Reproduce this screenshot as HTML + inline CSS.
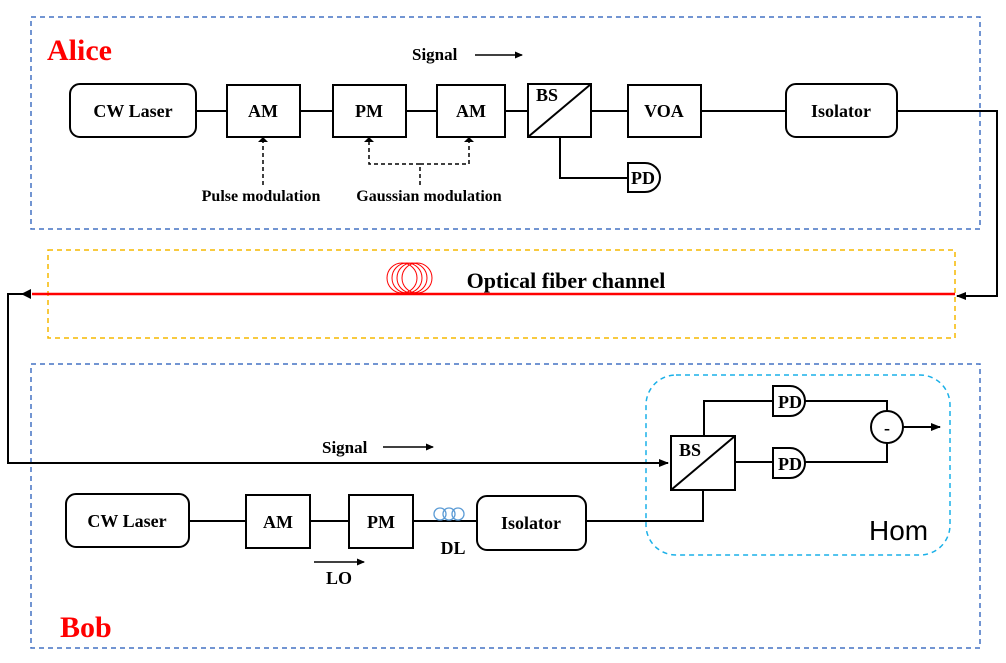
<!DOCTYPE html>
<html><head><meta charset="utf-8"><style>body{margin:0;background:#fff}svg{display:block}text{font-family:"Liberation Serif",serif;font-weight:bold}</style></head><body>
<svg width="1006" height="663" viewBox="0 0 1006 663" xmlns="http://www.w3.org/2000/svg">
<defs>
<marker id="a" markerWidth="10" markerHeight="8" refX="9" refY="4" orient="auto" markerUnits="userSpaceOnUse"><path d="M0,0 L10,4 L0,8 Z" fill="#000"/></marker>
<marker id="s" markerWidth="8" markerHeight="7" refX="7" refY="3.5" orient="auto" markerUnits="userSpaceOnUse"><path d="M0,0 L8,3.5 L0,7 Z" fill="#000"/></marker>
</defs>
<g fill="none" stroke-width="1.5" stroke-dasharray="5,4">
<rect x="31" y="17" width="949" height="212" stroke="#4472c4"/>
<rect x="48" y="250" width="907" height="88" stroke="#f5b800"/>
<rect x="31" y="364" width="949" height="284" stroke="#4472c4"/>
<rect x="646" y="375" width="304" height="180" rx="30" stroke="#1ab0e8"/>
</g>
<text x="47" y="60" font-size="30" fill="#f00">Alice</text>
<text x="60" y="637" font-size="30" fill="#f00">Bob</text>
<line x1="32" y1="294" x2="955" y2="294" stroke="#f00" stroke-width="2.5"/>
<g stroke="#000" stroke-width="2" fill="none">
<line x1="196" y1="111" x2="227" y2="111"/><line x1="300" y1="111" x2="333" y2="111"/><line x1="406" y1="111" x2="437" y2="111"/><line x1="505" y1="111" x2="528" y2="111"/><line x1="591" y1="111" x2="628" y2="111"/><line x1="701" y1="111" x2="786" y2="111"/>
<polyline points="897,111 997,111 997,296 957,296" marker-end="url(#a)"/>
<polyline points="560,137 560,178 628,178"/>
<polyline points="28,294 8,294 8,463 668,463" marker-end="url(#a)"/>
<line x1="189" y1="521" x2="246" y2="521"/><line x1="310" y1="521" x2="349" y2="521"/><line x1="413" y1="521" x2="477" y2="521"/>
<polyline points="586,521 703,521 703,490"/>
<polyline points="704,436 704,401 773,401"/>
<line x1="735" y1="462" x2="773" y2="462"/>
<polyline points="805,401 887,401 887,411"/><polyline points="805,462 887,462 887,443"/>
<line x1="903" y1="427" x2="940" y2="427" marker-end="url(#a)"/>
<line x1="475" y1="55" x2="522" y2="55" stroke-width="1.5" marker-end="url(#s)"/>
<line x1="383" y1="447" x2="433" y2="447" stroke-width="1.5" marker-end="url(#s)"/>
<line x1="314" y1="562" x2="364" y2="562" stroke-width="1.5" marker-end="url(#s)"/>
</g>
<path d="M31,289 L21,294 L31,299 Z" fill="#000"/>
<g fill="none" stroke="#f00" stroke-width="1"><circle cx="402" cy="278" r="15"/><circle cx="407" cy="278" r="15"/><circle cx="412" cy="278" r="15"/><circle cx="417" cy="278" r="15"/></g>
<g fill="none" stroke="#5b9bd5" stroke-width="1.3"><circle cx="440" cy="514" r="6"/><circle cx="449" cy="514" r="6"/><circle cx="458" cy="514" r="6"/></g>
<g stroke="#000" stroke-width="1.5" fill="none" stroke-dasharray="4,3">
<line x1="263" y1="185" x2="263" y2="140"/>
<polyline points="420,185 420,164 369,164 369,140"/><polyline points="420,164 469,164 469,140"/>
</g>
<g fill="#000"><path d="M258,142 L263,137 L268,142Z"/><path d="M364,142 L369,137 L374,142Z"/><path d="M464,142 L469,137 L474,142Z"/></g>
<g stroke="#000" stroke-width="2" fill="#fff">
<rect x="70" y="84" width="126" height="53" rx="10"/>
<rect x="227" y="85" width="73" height="52"/><rect x="333" y="85" width="73" height="52"/><rect x="437" y="85" width="68" height="52"/>
<rect x="528" y="84" width="63" height="53"/><line x1="528" y1="137" x2="591" y2="84"/>
<rect x="628" y="85" width="73" height="52"/>
<rect x="786" y="84" width="111" height="53" rx="10"/>
<path d="M628,163 H645 A15,14.5 0 0 1 645,192 H628 Z"/>
<rect x="66" y="494" width="123" height="53" rx="10"/>
<rect x="246" y="495" width="64" height="53"/><rect x="349" y="495" width="64" height="53"/>
<rect x="477" y="496" width="109" height="54" rx="10"/>
<rect x="671" y="436" width="64" height="54"/><line x1="671" y1="490" x2="735" y2="436"/>
<path d="M773,386 H790 A15,15 0 0 1 790,416 H773 Z"/>
<path d="M773,448 H790 A15,15 0 0 1 790,478 H773 Z"/>
<circle cx="887" cy="427" r="16"/>
</g>
<g font-size="18" text-anchor="middle">
<text x="133" y="117">CW Laser</text><text x="263" y="117">AM</text><text x="369" y="117">PM</text><text x="471" y="117">AM</text>
<text x="547" y="101">BS</text><text x="664" y="117">VOA</text><text x="841" y="117">Isolator</text>
<text x="643" y="184">PD</text>
<text x="127" y="527">CW Laser</text><text x="278" y="528">AM</text><text x="381" y="528">PM</text><text x="531" y="529">Isolator</text>
<text x="690" y="456">BS</text><text x="790" y="408">PD</text><text x="790" y="470">PD</text>
<text x="887" y="434">-</text>
<text x="453" y="554">DL</text><text x="339" y="584">LO</text>
<text x="566" y="288" font-size="22">Optical fiber channel</text>
</g>
<g font-size="17"><text x="412" y="60">Signal</text><text x="322" y="453">Signal</text></g>
<g font-size="16" text-anchor="middle"><text x="261" y="201">Pulse modulation</text><text x="429" y="201">Gaussian modulation</text></g>
<text x="869" y="540" font-size="28" style="font-family:'Liberation Sans',sans-serif;font-weight:normal">Hom</text>
</svg>
</body></html>
